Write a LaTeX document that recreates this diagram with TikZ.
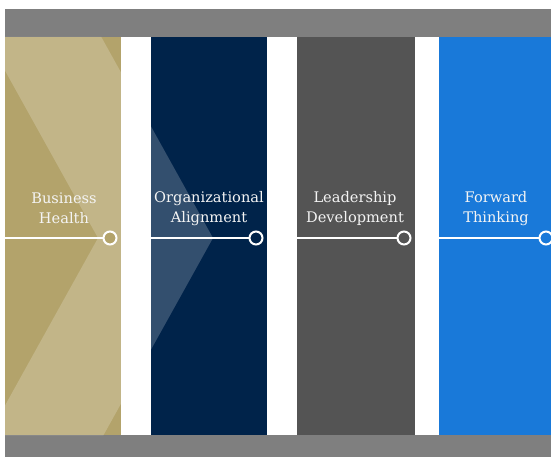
\documentclass[tikz,border=0pt]{standalone}
\usepackage{fontspec}
\setmainfont{DejaVu Serif}
\definecolor{bargray}{HTML}{7F7F7F}
\definecolor{gold}{HTML}{B3A36B}
\definecolor{navy}{HTML}{00234A}
\definecolor{slate}{HTML}{545454}
\definecolor{brightblue}{HTML}{1979D9}
\definecolor{labelwhite}{HTML}{F4F4F4}
\tikzset{
  panel/.style={rectangle, inner sep=0pt, draw=none, minimum height=398pt, anchor=north west},
  bar/.style={rectangle, inner sep=0pt, draw=none, fill=bargray, anchor=north west},
  dot/.style={circle, inner sep=0pt, minimum size=13pt, draw=white, line width=2pt},
  conn/.style={draw=white, line width=2.5pt},
  label/.style={text=labelwhite, align=center, font={\fontsize{14.6}{20}\selectfont}},
  band/.style={fill=white, fill opacity=0.2}
}
\begin{document}
\begin{tikzpicture}[x=1pt,y=-1pt]
\useasboundingbox (0,0) rectangle (551,457);
\clip (0,0) rectangle (551,457);
% bars
\node[bar, minimum width=560pt, minimum height=28pt] (topbar) at (5,9) {};
\node[bar, minimum width=560pt, minimum height=30pt] (botbar) at (5,435) {};
% panels
\node[panel, fill=gold, minimum width=116pt] (p1) at (5,37) {};
\node[panel, fill=navy, minimum width=116pt] (p2) at (151,37) {};
\node[panel, fill=slate, minimum width=118pt] (p3) at (297,37) {};
\node[panel, fill=brightblue, minimum width=118pt] (p4) at (439,37) {};
% chevron band
\begin{scope}
  \clip (p1.north west) rectangle (p1.south east) (p2.north west) rectangle (p2.south east);
  \fill[band] (-39.8,-10) -- (98,238) -- (-36.4,480) -- (78.6,480) -- (213,238) -- (75.2,-10) -- cycle;
\end{scope}
% labels
\node[label] (t1) at (64,208.5) {Business\\Health};
\node[label] (t2) at (209,208.5) {Organizational\\Alignment};
\node[label] (t3) at (355,208.5) {Leadership\\Development};
\node[label] (t4) at (496,208.5) {Forward\\Thinking};
% circles
\node[dot, fill=gold] (c1) at (110,238) {};
\node[dot, fill=navy] (c2) at (256,238) {};
\node[dot, fill=slate] (c3) at (404,238) {};
\node[dot, fill=brightblue] (c4) at (546,238) {};
% connectors
\draw[conn] (p1.west |- c1) -- (c1);
\draw[conn] (p2.west |- c2) -- (c2);
\draw[conn] (p3.west |- c3) -- (c3);
\draw[conn] (p4.west |- c4) -- (c4);
\end{tikzpicture}
\end{document}
